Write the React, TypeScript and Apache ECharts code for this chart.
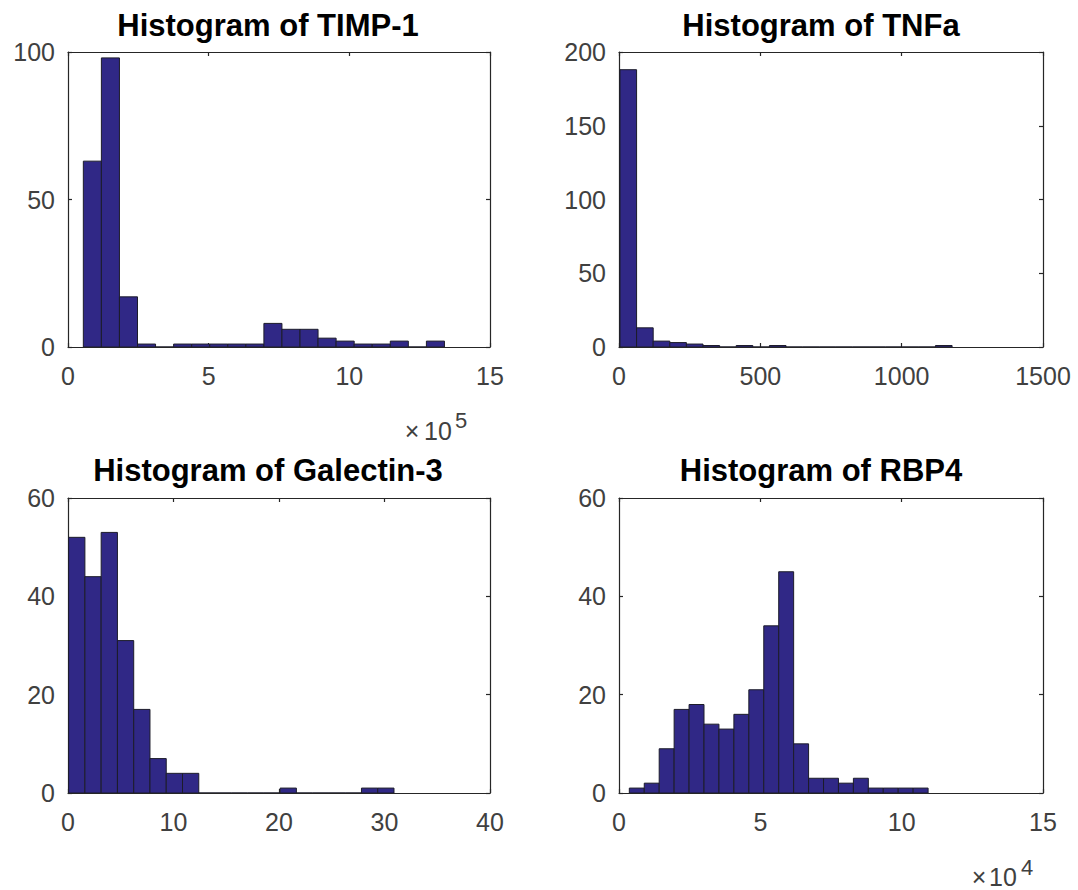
import React, { useEffect, useRef } from "react";
import * as echarts from "echarts";

// ---------- data ----------
const titles = ["Histogram of TIMP-1", "Histogram of TNFa", "Histogram of Galectin-3", "Histogram of RBP4"];

// TIMP-1 (x in units of 1e5)
const timpBinStart = 0.545;
const timpBinWidth = 0.6418;
const timpCounts = [63, 98, 17, 1, 0, 1, 1, 1, 1, 1, 8, 6, 6, 3, 2, 1, 1, 2, 0, 2];

// TNFa
const tnfBinStart = 3.5;
const tnfBinWidth = 58.74;
const tnfCounts = [188, 13, 4, 3, 2, 1, 0, 1, 0, 1, 0, 0, 0, 0, 0, 0, 0, 0, 0, 1];

// Galectin-3
const galBinStart = 0.06;
const galBinWidth = 1.542;
const galCounts = [52, 44, 53, 31, 17, 7, 4, 4, 0, 0, 0, 0, 0, 1, 0, 0, 0, 0, 1, 1];

// RBP4 (x in units of 1e4)
const rbpBinStart = 0.365;
const rbpBinWidth = 0.5285;
const rbpCounts = [1, 2, 9, 17, 18, 14, 13, 16, 21, 34, 45, 10, 3, 3, 2, 3, 1, 1, 1, 1];

// axis ranges / ticks
const xRanges = [
  { min: 0, max: 15, interval: 5 },
  { min: 0, max: 1500, interval: 500 },
  { min: 0, max: 40, interval: 10 },
  { min: 0, max: 15, interval: 5 },
];
const yRanges = [
  { min: 0, max: 100, interval: 50 },
  { min: 0, max: 200, interval: 50 },
  { min: 0, max: 60, interval: 20 },
  { min: 0, max: 60, interval: 20 },
];
const exponents = ["5", "", "", "4"];

const FONT = '"Liberation Sans", Arial, Helvetica, sans-serif';
const AXIS_COLOR = "#262626";
const LABEL_COLOR = "#404040";
const BAR_FILL = "#302886";
const BAR_EDGE = "#1c1c2a";

function bins(start: number, width: number, counts: number[]) {
  return counts.map((c, i) => [start + i * width, start + (i + 1) * width, c]);
}

const histData = [
  bins(timpBinStart, timpBinWidth, timpCounts),
  bins(tnfBinStart, tnfBinWidth, tnfCounts),
  bins(galBinStart, galBinWidth, galCounts),
  bins(rbpBinStart, rbpBinWidth, rbpCounts),
];

const grids = [
  { left: 68, top: 52, width: 422, height: 295 },
  { left: 619, top: 52, width: 424, height: 295 },
  { left: 68, top: 498, width: 422, height: 295 },
  { left: 619, top: 498, width: 424, height: 295 },
];
const titlePos = [
  { x: 268, y: 25 },
  { x: 821, y: 25 },
  { x: 268, y: 470 },
  { x: 821, y: 470 },
];
const expPos = [
  { x: 412, y: 431, sx: 424, ex: 455, ey: 420 },
  null,
  null,
  { x: 979, y: 877, sx: 989, ex: 1021, ey: 867 },
];

export default function App() {
  const ref = useRef<HTMLDivElement>(null);
  useEffect(() => {
    if (!ref.current) return;
    const chart = echarts.init(ref.current, undefined, { renderer: "svg" });

    const xAxis: any[] = [];
    const yAxis: any[] = [];
    const series: any[] = [];
    const graphic: any[] = [];
    const fmt = (v: number) => String(v);

    grids.forEach((g, i) => {
      const lineStyle = { color: AXIS_COLOR, width: 1.2 };
      xAxis.push({
        type: "value", gridIndex: i, position: "bottom",
        min: xRanges[i].min, max: xRanges[i].max, interval: xRanges[i].interval,
        axisLine: { show: true, onZero: false, lineStyle },
        axisTick: { show: true, inside: true, length: 4, lineStyle },
        axisLabel: { show: true, margin: 16, fontSize: 25, fontFamily: FONT, color: LABEL_COLOR, formatter: fmt },
        splitLine: { show: false },
      });
      xAxis.push({
        type: "value", gridIndex: i, position: "top",
        min: xRanges[i].min, max: xRanges[i].max, interval: xRanges[i].interval,
        axisLine: { show: true, onZero: false, lineStyle },
        axisTick: { show: true, inside: true, length: 4, lineStyle },
        axisLabel: { show: false },
        splitLine: { show: false },
      });
      yAxis.push({
        type: "value", gridIndex: i, position: "left",
        min: yRanges[i].min, max: yRanges[i].max, interval: yRanges[i].interval,
        axisLine: { show: true, onZero: false, lineStyle },
        axisTick: { show: true, inside: true, length: 4, lineStyle },
        axisLabel: { show: true, margin: 13, fontSize: 25, fontFamily: FONT, color: LABEL_COLOR, formatter: fmt },
        splitLine: { show: false },
      });
      yAxis.push({
        type: "value", gridIndex: i, position: "right",
        min: yRanges[i].min, max: yRanges[i].max, interval: yRanges[i].interval,
        axisLine: { show: true, onZero: false, lineStyle },
        axisTick: { show: true, inside: true, length: 4, lineStyle },
        axisLabel: { show: false },
        splitLine: { show: false },
      });
      series.push({
        type: "custom",
        xAxisIndex: i * 2,
        yAxisIndex: i * 2,
        clip: true,
        encode: { x: [0, 1], y: 2 },
        data: histData[i],
        renderItem: (params: any, api: any) => {
          const s = api.value(0);
          const e = api.value(1);
          const c = api.value(2);
          const p0 = api.coord([s, c]);
          const p1 = api.coord([e, 0]);
          return {
            type: "rect",
            shape: { x: p0[0], y: p0[1], width: p1[0] - p0[0], height: p1[1] - p0[1] },
            style: { fill: BAR_FILL, stroke: BAR_EDGE, lineWidth: 1 },
          };
        },
        z: 1,
      });
      graphic.push({
        type: "text",
        x: titlePos[i].x,
        y: titlePos[i].y,
        style: {
          text: titles[i],
          fontSize: 31,
          fontWeight: "bold",
          fontFamily: FONT,
          fill: "#000000",
          align: "center",
          verticalAlign: "middle",
        },
      });
      const ep = expPos[i];
      if (ep && exponents[i]) {
        graphic.push({
          type: "text", x: ep.x, y: ep.y,
          style: { text: "×", fontSize: 25, fontFamily: FONT, fill: LABEL_COLOR, align: "center", verticalAlign: "middle" },
        });
        graphic.push({
          type: "text", x: ep.sx, y: ep.y,
          style: { text: "10", fontSize: 25, fontFamily: FONT, fill: LABEL_COLOR, align: "left", verticalAlign: "middle" },
        });
        graphic.push({
          type: "text", x: ep.ex, y: ep.ey,
          style: { text: exponents[i], fontSize: 22, fontFamily: FONT, fill: LABEL_COLOR, align: "left", verticalAlign: "middle" },
        });
      }
    });

    chart.setOption({
      animation: false,
      backgroundColor: "#ffffff",
      grid: grids.map((g) => ({ ...g, containLabel: false })),
      xAxis,
      yAxis,
      series,
      graphic,
    });
    return () => chart.dispose();
  }, []);

  return (
    <div
      ref={ref}
      style={{ position: "absolute", left: 0, top: 0, width: 1078, height: 890 }}
    />
  );
}
